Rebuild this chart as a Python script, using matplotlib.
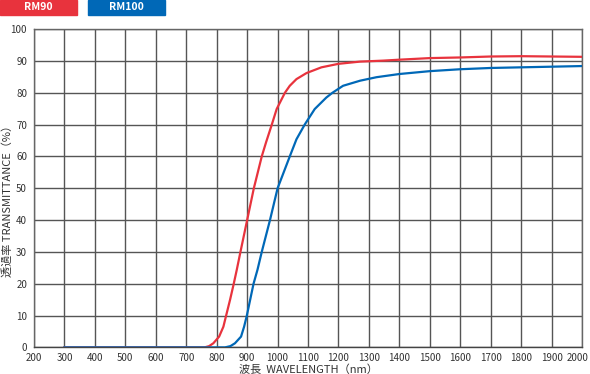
import matplotlib
matplotlib.use("Agg")
import matplotlib.pyplot as plt
import matplotlib.transforms as mtrans
from matplotlib.patches import Rectangle

plt.rcParams["font.family"] = ["Noto Sans CJK JP", "DejaVu Sans"]

# RM90 transmittance curve
red_wl = [300, 760, 775, 789, 808, 822, 831, 844, 856, 866, 878, 900, 922, 948,
          962, 981, 997, 1024, 1040, 1062, 1095, 1144, 1200, 1271, 1346, 1400,
          1500, 1600, 1700, 1800, 1900, 2000]
red_t = [0, 0, 0.4, 1.3, 3.4, 6.5, 10, 15, 20, 24.4, 30, 40, 50, 60,
         64.4, 70, 74.9, 80, 82.2, 84.3, 86.2, 88.0, 89.1, 89.8, 90.1, 90.4,
         90.9, 91.1, 91.4, 91.5, 91.4, 91.3]

# RM100 transmittance curve
blue_wl = [300, 827, 845, 860, 880, 890, 899, 910, 921, 934, 948, 975, 1000,
           1040, 1062, 1089, 1122, 1160, 1180, 1215, 1271, 1325, 1400, 1500,
           1600, 1700, 1800, 1900, 2000]
blue_t = [0, 0, 0.4, 1.3, 3.4, 6.5, 10, 15, 20, 24.4, 30, 40, 50,
          60, 65.4, 70, 74.9, 78.5, 80, 82.2, 83.8, 84.9, 85.9, 86.8,
          87.4, 87.8, 88.0, 88.2, 88.4]

x_ticks = list(range(200, 2001, 100))
y_ticks = list(range(0, 101, 10))
series_names = ["RM90", "RM100"]
RED = "#e8333d"
BLUE = "#0068b7"

fig = plt.figure(figsize=(5.9, 3.74), dpi=100)
ax = fig.add_axes([0.0576, 0.0711, 0.929, 0.851])

ax.set_xlim(200, 2000)
ax.set_ylim(0, 100)
ax.set_xticks(x_ticks)
ax.set_yticks(y_ticks)
ax.grid(True, color="#555555", linewidth=1.0)
ax.set_axisbelow(True)
for s in ax.spines.values():
    s.set_color("#666666")
    s.set_linewidth(1.0)
ax.spines["bottom"].set_color("#444444")
ax.tick_params(length=0, labelsize=7, colors="#333333")
ax.tick_params(axis="x", pad=4)
ax.tick_params(axis="y", pad=5)
# nudge the last x label left a little so it stays on the canvas
last = ax.get_xticklabels()[-1]
last.set_transform(last.get_transform()
                   + mtrans.ScaledTranslation(-0.05, 0, fig.dpi_scale_trans))

ax.plot(red_wl, red_t, color=RED, linewidth=1.6, zorder=3)
ax.plot(blue_wl, blue_t, color=BLUE, linewidth=1.6, zorder=4)

ax.set_xlabel("波長  WAVELENGTH（nm）", fontsize=8, color="#333333", labelpad=1)
# y label placed by hand so it stays inside the narrow left margin
fig.text(8 / 590, 1 - 198 / 374, "透過率 TRANSMITTANCE（%）", rotation=90,
         fontsize=8, color="#333333", ha="center", va="center")

# legend boxes at the top-left
for i, (name, col) in enumerate(zip(series_names, [RED, BLUE])):
    x0 = i * 88 / 590
    fig.patches.append(Rectangle((x0, 1 - 15 / 374), 77 / 590, 15 / 374,
                                 transform=fig.transFigure, color=col, zorder=5))
    fig.text(x0 + 38.5 / 590, 1 - 7.5 / 374, name, color="white", fontsize=7.5,
             fontweight="bold", ha="center", va="center", zorder=6)

fig.savefig("out.png", dpi=100)
